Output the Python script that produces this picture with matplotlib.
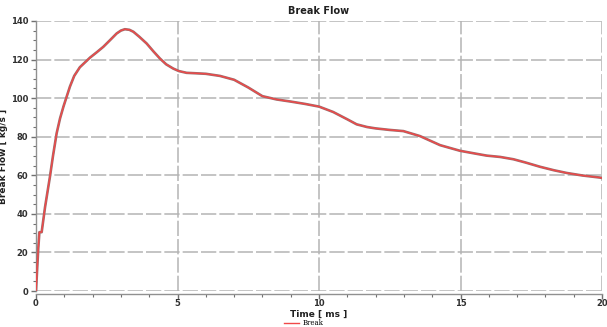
import matplotlib
matplotlib.use("Agg")
import matplotlib.pyplot as plt
from matplotlib.ticker import MultipleLocator

# Break flow curve
time_ms = [0.0, 0.08, 0.12, 0.2, 0.32, 0.49, 0.6, 0.73, 0.85, 0.97, 1.2, 1.35, 1.55,
           1.91, 2.15, 2.38, 2.6, 2.85, 3.0, 3.14, 3.3, 3.44, 3.65, 3.91, 4.15, 4.38,
           4.6, 4.85, 5.05, 5.32, 5.6, 6.0, 6.5, 7.0, 7.5, 8.0, 8.5, 9.0, 9.5, 10.0,
           10.5, 11.0, 11.33, 11.7, 12.0, 12.5, 12.98, 13.57, 14.28, 14.98, 15.5,
           15.92, 16.4, 16.87, 17.3, 17.81, 18.3, 18.75, 19.3, 19.93, 20.0]
flow = [0.0, 22.0, 30.5, 30.5, 43.5, 59.0, 70.0, 81.8, 89.5, 95.6, 106.0, 111.5, 116.0,
        121.0, 123.8, 126.6, 129.8, 133.5, 135.0, 135.7, 135.4, 134.4, 131.8, 128.3, 124.2, 120.5,
        117.5, 115.3, 114.0, 113.1, 112.9, 112.6, 111.5, 109.5, 105.5, 101.0, 99.3, 98.2, 97.0, 95.6,
        92.8, 89.0, 86.4, 85.0, 84.3, 83.5, 82.9, 80.3, 75.6, 72.7, 71.3,
        70.2, 69.5, 68.3, 66.6, 64.4, 62.6, 61.2, 59.9, 58.8, 58.6]

x_ticks = [0, 5, 10, 15, 20]
y_ticks = [0, 20, 40, 60, 80, 100, 120, 140]

fig = plt.figure(figsize=(6.07, 3.27), dpi=100)
ax = fig.add_axes([0.0593, 0.110, 0.9325, 0.826])

ax.plot(time_ms, flow, color="#9a7070", lw=1.9, zorder=3)
line, = ax.plot(time_ms, flow, color="#f04848", lw=1.0, label="Break", zorder=4)

ax.set_xlim(0, 20)
ax.set_ylim(0, 140)
ax.set_xticks(x_ticks)
ax.set_yticks(y_ticks)
ax.xaxis.set_minor_locator(MultipleLocator(1))
ax.yaxis.set_minor_locator(MultipleLocator(5))

ax.grid(True, which="major", color="#b4b4b4", linestyle=(0, (10, 2)), lw=1.1)
ax.set_axisbelow(True)

for s in ["top", "right"]:
    ax.spines[s].set_visible(False)
ax.spines["bottom"].set_position(("outward", 2))
for s in ["left", "bottom"]:
    ax.spines[s].set_color("#909090")
    ax.spines[s].set_linewidth(1.0)

ax.tick_params(which="major", length=3.5, width=1, color="#707070",
               labelsize=6, labelcolor="#303030", pad=2)
ax.tick_params(axis="x", which="major", pad=0.5)
ax.tick_params(which="minor", length=2.5, width=0.8, color="#707070")
for lbl in ax.get_xticklabels() + ax.get_yticklabels():
    lbl.set_fontweight("bold")

ax.set_title("Break Flow", fontsize=7, fontweight="bold", color="#202020", pad=5)
ax.set_xlabel("Time [ ms ]", fontsize=6.5, fontweight="bold", color="#202020")
ax.set_ylabel("Break Flow [ kg/s ]", fontsize=6.5, fontweight="bold", color="#202020")
ax.xaxis.set_label_coords(0.5, -0.068)
ax.yaxis.set_label_coords(-0.049, 0.5)

fig.legend(handles=[line], loc="center", bbox_to_anchor=(0.5, 0.011),
           frameon=False, prop={"family": "serif", "size": 5},
           handlelength=2.2, handletextpad=0.5, borderpad=0)

fig.savefig("out.png", dpi=100)
